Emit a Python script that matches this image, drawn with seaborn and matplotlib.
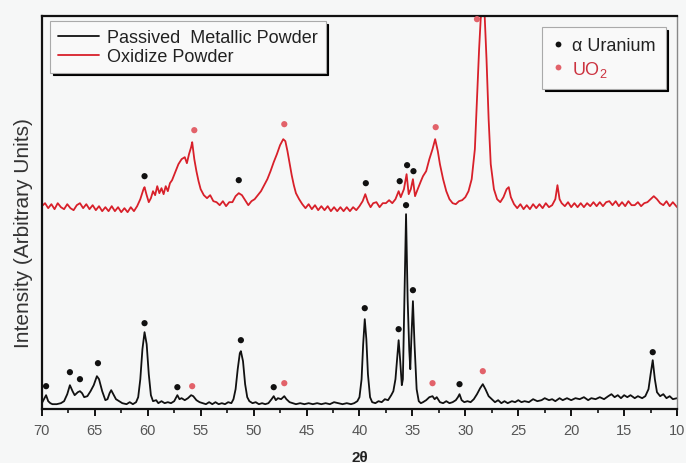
import matplotlib
matplotlib.use("Agg")
import matplotlib.pyplot as plt
from matplotlib.lines import Line2D
from matplotlib.ticker import MultipleLocator, AutoMinorLocator
import seaborn as sns
import pandas as pd

# ---------------- data ----------------
black_2theta = [70.0, 69.8, 69.6, 69.4, 69.2, 69.0, 68.6, 68.2, 67.9, 67.6, 67.35, 67.1, 66.9, 66.6,
                66.4, 66.2, 66.0, 65.7, 65.4, 65.1, 64.8, 64.6, 64.3, 64.0, 63.8, 63.6, 63.45, 63.2,
                63.0, 62.7, 62.4, 62.0, 61.7, 61.4, 61.1, 60.9, 60.7, 60.5, 60.3, 60.1, 59.9, 59.7,
                59.5, 59.2, 59.0, 58.7, 58.4, 58.1, 57.8, 57.5, 57.2, 57.0, 56.8, 56.5, 56.2, 55.9,
                55.7, 55.4, 55.1, 54.8, 54.5, 54.2, 53.9, 53.6, 53.3, 53.0, 52.7, 52.4, 52.1, 51.9,
                51.7, 51.5, 51.3, 51.2, 51.0, 50.8, 50.6, 50.4, 50.1, 49.8, 49.5, 49.2, 48.9, 48.6,
                48.3, 48.1, 47.9, 47.7, 47.4, 47.1, 46.9, 46.6, 46.3, 46.0, 45.6, 45.2, 44.8, 44.4,
                44.0, 43.6, 43.2, 42.8, 42.4, 42.0, 41.6, 41.2, 40.8, 40.5, 40.2, 40.0, 39.8, 39.65,
                39.5, 39.35, 39.2, 39.0, 38.8, 38.5, 38.2, 37.9, 37.6, 37.3, 37.0, 36.8, 36.6, 36.45,
                36.3, 36.15, 36.0, 35.9, 35.75, 35.6, 35.45, 35.3, 35.2, 35.1, 34.95, 34.8, 34.6, 34.4,
                34.2, 34.0, 33.7, 33.4, 33.1, 32.9, 32.7, 32.4, 32.1, 31.8, 31.5, 31.2, 30.9, 30.7,
                30.55, 30.35, 30.1, 29.8, 29.5, 29.2, 28.9, 28.6, 28.35, 28.1, 27.8, 27.5, 27.2, 26.9,
                26.6, 26.3, 26.0, 25.6, 25.3, 25.0, 24.7, 24.4, 24.0, 23.6, 23.2, 22.8, 22.5, 22.1,
                21.8, 21.5, 21.1, 20.8, 20.4, 20.0, 19.6, 19.2, 18.8, 18.4, 18.1, 17.7, 17.3, 16.9,
                16.5, 16.2, 15.9, 15.6, 15.3, 15.0, 14.7, 14.4, 14.0, 13.7, 13.3, 13.0, 12.7, 12.5,
                12.3, 12.1, 11.9, 11.6, 11.3, 11.0, 10.7, 10.4, 10.0]
black_intensity = [6, 10, 14, 8, 6, 5, 5, 6, 8, 15, 24, 18, 14, 17,
                   18, 16, 12, 13, 18, 24, 33, 30, 18, 9, 10, 16, 19, 14,
                   10, 8, 6, 5, 7, 5, 7, 12, 30, 60, 77, 65, 35, 14,
                   8, 9, 6, 8, 6, 7, 6, 8, 14, 10, 11, 9, 11, 14,
                   13, 9, 7, 6, 5, 7, 5, 7, 5, 6, 5, 7, 6, 10,
                   20, 40, 56, 58, 48, 25, 12, 8, 6, 7, 5, 6, 5, 6,
                   10, 13, 9, 11, 10, 13, 10, 7, 6, 5, 6, 5, 6, 5,
                   6, 5, 6, 5, 7, 6, 5, 6, 5, 6, 8, 12, 30, 65,
                   90, 70, 35, 12, 7, 6, 8, 7, 10, 9, 14, 18, 30, 50,
                   69, 48, 24, 30, 110, 195, 110, 60, 40, 70, 108, 65, 20, 8,
                   6, 7, 9, 12, 13, 10, 12, 7, 6, 8, 6, 7, 9, 12,
                   15, 9, 7, 8, 7, 10, 15, 21, 25, 20, 13, 10, 7, 9,
                   6, 8, 6, 8, 7, 9, 7, 8, 7, 10, 8, 9, 11, 9,
                   10, 8, 11, 9, 11, 9, 11, 10, 12, 9, 11, 10, 12, 10,
                   13, 15, 12, 14, 11, 14, 12, 14, 11, 13, 11, 13, 20, 35,
                   49, 30, 17, 13, 15, 11, 13, 10, 11]

red_2theta = [70.0, 69.7, 69.4, 69.1, 68.8, 68.5, 68.2, 67.9, 67.6, 67.3, 67.0, 66.7, 66.4, 66.1,
              65.8, 65.5, 65.2, 64.9, 64.6, 64.3, 64.0, 63.7, 63.4, 63.1, 62.8, 62.5, 62.2, 61.9,
              61.6, 61.3, 61.0, 60.7, 60.4, 60.3, 60.1, 59.9, 59.7, 59.5, 59.3, 59.1, 58.9, 58.7,
              58.5, 58.3, 58.1, 57.9, 57.7, 57.4, 57.1, 56.8, 56.5, 56.3, 56.1, 55.9, 55.8, 55.6,
              55.4, 55.2, 55.0, 54.7, 54.4, 54.1, 53.8, 53.5, 53.2, 52.9, 52.6, 52.3, 52.0, 51.7,
              51.4, 51.1, 50.8, 50.5, 50.2, 49.9, 49.6, 49.3, 49.0, 48.7, 48.4, 48.1, 47.8, 47.5,
              47.2, 47.0, 46.8, 46.6, 46.4, 46.2, 46.0, 45.7, 45.4, 45.1, 44.8, 44.5, 44.2, 43.9,
              43.6, 43.3, 43.0, 42.7, 42.4, 42.1, 41.8, 41.5, 41.2, 40.9, 40.6, 40.3, 40.0, 39.7,
              39.45, 39.2, 38.95, 38.7, 38.4, 38.1, 37.8, 37.5, 37.2, 36.9, 36.6, 36.3, 36.1, 35.8,
              35.55, 35.35, 35.15, 34.95, 34.75, 34.5, 34.2, 34.0, 33.7, 33.4, 33.1, 32.85, 32.6, 32.4,
              32.1, 31.8, 31.5, 31.2, 30.9, 30.6, 30.3, 30.0, 29.7, 29.4, 29.1, 28.9, 28.7, 28.55,
              28.4, 28.2, 28.0, 27.8, 27.6, 27.3, 27.0, 26.7, 26.4, 26.1, 25.9, 25.7, 25.4, 25.1,
              24.8, 24.5, 24.2, 23.9, 23.6, 23.3, 23.0, 22.7, 22.4, 22.1, 21.8, 21.5, 21.3, 21.1,
              20.9, 20.6, 20.3, 20.0, 19.7, 19.4, 19.1, 18.8, 18.5, 18.2, 17.9, 17.6, 17.3, 17.0,
              16.7, 16.4, 16.1, 15.8, 15.5, 15.2, 14.9, 14.6, 14.3, 14.0, 13.7, 13.4, 13.1, 12.8,
              12.5, 12.2, 11.9, 11.6, 11.3, 11.0, 10.7, 10.4, 10.0]
red_intensity = [203, 206, 201, 205, 200, 206, 202, 200, 205, 201, 199, 204, 206, 201,
                 205, 200, 204, 199, 203, 198, 202, 198, 203, 198, 202, 197, 201, 197,
                 202, 198, 203, 210, 220, 222, 214, 207, 211, 218, 214, 223, 216, 221,
                 215, 223, 218, 226, 229, 237, 245, 250, 252, 246, 255, 262, 267, 250,
                 238, 228, 220, 214, 211, 214, 208, 207, 204, 208, 203, 207, 207, 213,
                 216, 214, 209, 204, 208, 210, 214, 218, 224, 230, 238, 247, 255, 264,
                 270, 268, 258, 246, 234, 224, 216, 210, 205, 201, 205, 200, 204, 199,
                 203, 199, 203, 198, 202, 198, 202, 198, 202, 198, 202, 199, 203, 208,
                 215, 207, 202, 206, 207, 202, 206, 206, 209, 206, 210, 218, 212, 220,
                 235, 215, 220, 230, 213, 220, 228, 233, 238, 250, 260, 270, 258, 245,
                 230, 218, 210, 206, 205, 208, 209, 212, 218, 230, 260, 310, 360, 390,
                 405, 400, 350, 290, 245, 220, 210, 207, 212, 220, 222, 212, 205, 201,
                 205, 200, 204, 200, 205, 201, 205, 201, 206, 202, 204, 210, 224, 210,
                 206, 203, 207, 202, 206, 202, 206, 202, 206, 203, 207, 203, 207, 203,
                 207, 208, 204, 208, 203, 207, 203, 208, 204, 204, 207, 203, 206, 207,
                 210, 213, 210, 206, 204, 208, 203, 207, 202]

# peak markers
uranium_dot_2theta = [69.6, 67.35, 66.4, 64.7, 60.3, 57.2, 51.2, 48.1, 39.5, 36.3, 35.6, 34.95, 30.55,
                      12.3, 60.3, 51.4, 39.4, 36.2, 35.5, 34.9]
uranium_dot_intensity = [23, 37, 30, 46, 86, 22, 69, 22, 101, 80, 204, 119, 25,
                         57, 233, 229, 226, 228, 244, 238]
uo2_dot_2theta = [55.8, 47.1, 33.1, 28.35, 55.6, 47.1, 32.8, 28.9]
uo2_dot_intensity = [23, 26, 26, 38, 279, 285, 282, 390]

series_labels = ["Passived  Metallic Powder", "Oxidize Powder"]
phase_labels = ["\u03b1 Uranium", "UO$_2$"]

# ---------------- styling ----------------
BLACK = "#111111"
RED = "#d8202a"
DOT_RED = "#e2626a"
BG = "#f6f7f7"

sns.set_theme(style="ticks")
plt.rcParams["font.family"] = ["Liberation Sans", "DejaVu Sans"]
plt.rcParams["mathtext.default"] = "regular"

fig = plt.figure(figsize=(6.86, 4.64), dpi=100, facecolor=BG)
ax = fig.add_axes([0.061, 0.116, 0.926, 0.847])
ax.set_facecolor(BG)

curves = pd.concat([
    pd.DataFrame({"twotheta": black_2theta, "intensity": black_intensity, "sample": series_labels[0]}),
    pd.DataFrame({"twotheta": red_2theta, "intensity": red_intensity, "sample": series_labels[1]}),
], ignore_index=True)

sns.lineplot(data=curves, x="twotheta", y="intensity", hue="sample",
             palette={series_labels[0]: BLACK, series_labels[1]: RED},
             estimator=None, sort=False, linewidth=1.3, legend=False, ax=ax)

dots = pd.concat([
    pd.DataFrame({"twotheta": uranium_dot_2theta, "intensity": uranium_dot_intensity, "phase": phase_labels[0]}),
    pd.DataFrame({"twotheta": uo2_dot_2theta, "intensity": uo2_dot_intensity, "phase": phase_labels[1]}),
], ignore_index=True)

sns.scatterplot(data=dots, x="twotheta", y="intensity", hue="phase",
                palette={phase_labels[0]: BLACK, phase_labels[1]: DOT_RED},
                s=20, linewidth=0, legend=False, ax=ax, zorder=5)

ax.set_xlim(70, 10)
ax.set_ylim(0, 393)
ax.xaxis.set_major_locator(MultipleLocator(5))
ax.xaxis.set_minor_locator(AutoMinorLocator(2))
ax.set_yticks([])
ax.tick_params(axis="x", which="major", direction="out", length=5, width=1.4,
               colors=BLACK, labelcolor="#555555", labelsize=10.5, pad=5)
ax.tick_params(axis="x", which="minor", direction="out", length=3, width=1.2, colors=BLACK)

for side in ["left", "bottom", "top"]:
    ax.spines[side].set_color(BLACK)
    ax.spines[side].set_linewidth(1.6)
ax.spines["right"].set_color("#888888")
ax.spines["right"].set_linewidth(1.0)

ax.set_xlabel("2\u03b8", fontsize=11, fontweight="bold", color="#222222", labelpad=9)
ax.set_ylabel("Intensity (Arbitrary Units)", fontsize=15, color="#333333")
ax.yaxis.set_label_coords(-0.014, 0.45)

# legends
h1 = [Line2D([], [], color=BLACK, lw=1.3), Line2D([], [], color=RED, lw=1.3)]
leg1 = ax.legend(h1, series_labels, loc="upper left", bbox_to_anchor=(0.013, 0.987),
                 borderaxespad=0, fontsize=13, frameon=True, fancybox=False,
                 shadow={"color": "black", "alpha": 1}, handlelength=2.3, handletextpad=0.45,
                 labelspacing=0.12, borderpad=0.42, edgecolor="#aaaaaa", facecolor="#f9f9f9", framealpha=1)
leg1.get_frame().set_linewidth(0.8)
for t in leg1.get_texts():
    t.set_color("#222222")
ax.add_artist(leg1)

h2 = [Line2D([], [], ls="", marker="o", markersize=4.2, markeredgewidth=0, color=BLACK),
      Line2D([], [], ls="", marker="o", markersize=4.2, markeredgewidth=0, color=DOT_RED)]
leg2 = ax.legend(h2, phase_labels, loc="upper right", bbox_to_anchor=(0.982, 0.972),
                 borderaxespad=0, fontsize=13, frameon=True, fancybox=False,
                 shadow={"color": "black", "alpha": 1}, handlelength=0.6, handletextpad=0.5,
                 labelspacing=0.25, borderpad=0.55, edgecolor="#aaaaaa", facecolor="#f9f9f9", framealpha=1)
leg2.get_frame().set_linewidth(0.8)
leg2.get_texts()[0].set_color("#222222")
leg2.get_texts()[1].set_color("#cc3340")

fig.savefig("out.png", dpi=100, facecolor=BG)
